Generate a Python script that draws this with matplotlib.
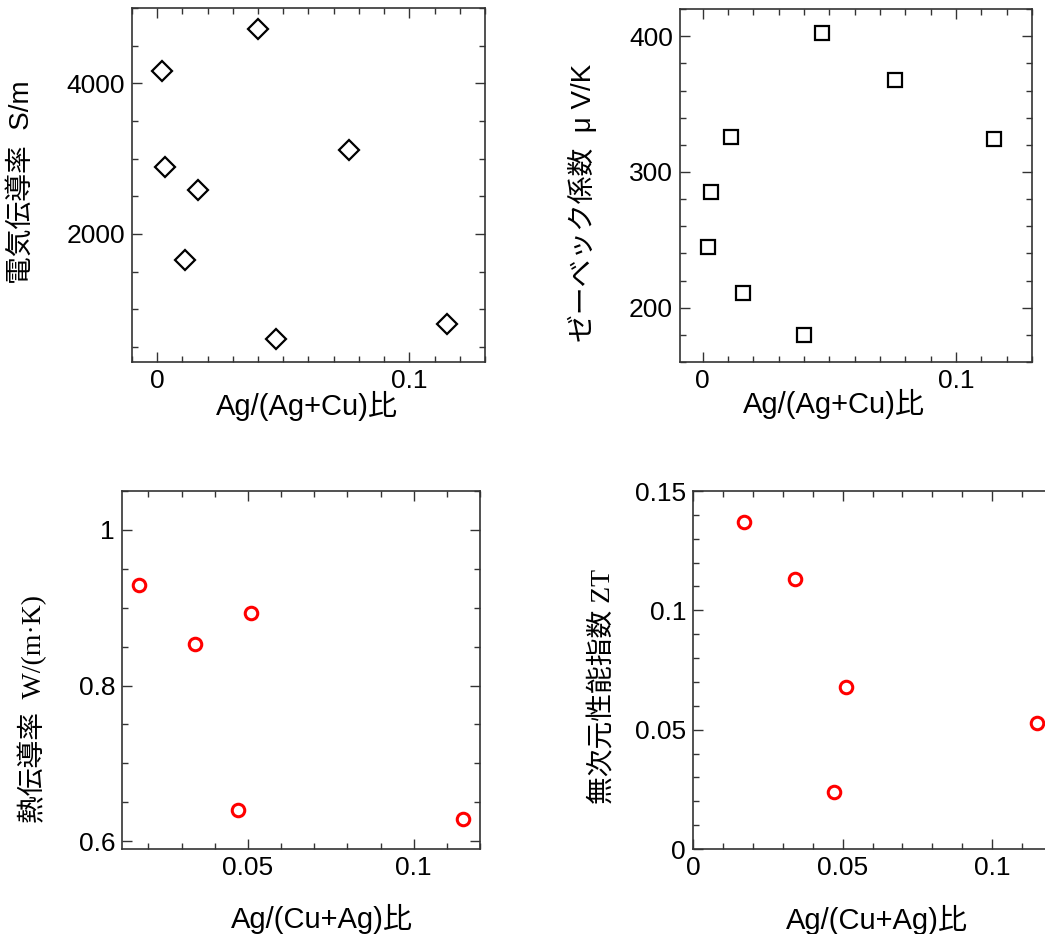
import matplotlib
matplotlib.use('Agg')
import matplotlib.pyplot as plt
from matplotlib.ticker import MultipleLocator, FuncFormatter

plt.rcParams['font.family'] = ['Liberation Sans', 'Noto Sans CJK JP']

# data
ag_ratio_top = [0.002, 0.0032, 0.0112, 0.016, 0.0398, 0.0472, 0.076, 0.115]
sigma = [4160, 2890, 1660, 2590, 4720, 610, 3120, 810]        # S/m
seebeck = [245, 285, 326, 211, 180, 402, 368, 324]            # uV/K

ag_ratio_bottom = [0.017, 0.034, 0.047, 0.051, 0.115]
kappa = [0.929, 0.854, 0.640, 0.893, 0.628]                   # W/(m K)
zt = [0.137, 0.113, 0.024, 0.068, 0.053]

sans = ['Liberation Sans', 'Noto Sans CJK JP']
serif = ['Liberation Serif', 'Noto Sans CJK JP']

fig = plt.figure(figsize=(10.45, 9.34), dpi=100)

fmt = FuncFormatter(lambda v, p: f'{v:g}')


def style(ax, xmaj, xmin, ymaj, ymin):
    ax.xaxis.set_major_locator(MultipleLocator(xmaj))
    ax.xaxis.set_minor_locator(MultipleLocator(xmin))
    ax.yaxis.set_major_locator(MultipleLocator(ymaj))
    ax.yaxis.set_minor_locator(MultipleLocator(ymin))
    ax.xaxis.set_major_formatter(fmt)
    ax.yaxis.set_major_formatter(fmt)
    ax.tick_params(which='both', direction='in', top=True, right=True,
                   color='#333333', width=1.0, labelsize=19, pad=5)
    ax.tick_params(which='major', length=7)
    ax.tick_params(which='minor', length=4)
    for s in ax.spines.values():
        s.set_color('#333333')
        s.set_linewidth(1.2)


# electrical conductivity
ax1 = fig.add_axes([0.1263, 0.6124, 0.3378, 0.3790])
ax1.plot(ag_ratio_top, sigma, 'D', ms=10, mfc='none', mec='black', mew=1.6)
ax1.set_xlim(-0.01, 0.13)
ax1.set_ylim(300, 5000)
style(ax1, 0.1, 0.01, 2000, 500)
ax1.set_xlabel('Ag/(Ag+Cu)比', fontsize=21, family=sans, va='center')
ax1.set_ylabel('電気伝導率  S/m', fontsize=20, family=sans, va='center')
ax1.xaxis.set_label_coords(0.497, -0.124)
ax1.yaxis.set_label_coords(-0.312, 0.507)

# seebeck coefficient
ax2 = fig.add_axes([0.6507, 0.6124, 0.3368, 0.3779])
ax2.plot(ag_ratio_top, seebeck, 's', ms=9.5, mfc='none', mec='black', mew=1.6)
ax2.set_xlim(-0.009, 0.13)
ax2.set_ylim(160, 420)
style(ax2, 0.1, 0.01, 100, 20)
ax2.set_xlabel('Ag/(Ag+Cu)比', fontsize=21, family=sans, va='center')
ax2.set_ylabel('ゼーベック係数  μ V/K', fontsize=20, family=sans, va='center')
ax2.xaxis.set_label_coords(0.4375, -0.119)
ax2.yaxis.set_label_coords(-0.276, 0.452)

# thermal conductivity
ax3 = fig.add_axes([0.1167, 0.0910, 0.3426, 0.3833])
ax3.plot(ag_ratio_bottom, kappa, 'o', ms=9, mfc='none', mec='red', mew=2.2)
ax3.set_xlim(0.012, 0.12)
ax3.set_ylim(0.59, 1.05)
style(ax3, 0.05, 0.01, 0.2, 0.05)
ax3.set_xlabel('Ag/(Cu+Ag)比', fontsize=21, family=sans, va='center')
ax3.set_ylabel('熱伝導率  W/(m·K)', fontsize=20, family=serif, va='center')
ax3.xaxis.set_label_coords(0.558, -0.196)
ax3.yaxis.set_label_coords(-0.251, 0.392)

# ZT (right side cut off by the figure edge, as in the original)
ax4 = fig.add_axes([0.6632, 0.0910, 0.3722, 0.3833])
ax4.plot(ag_ratio_bottom, zt, 'o', ms=9, mfc='none', mec='red', mew=2.2)
ax4.set_xlim(0, 0.13)
ax4.set_ylim(0, 0.15)
style(ax4, 0.05, 0.01, 0.05, 0.01)
ax4.set_xlabel('Ag/(Cu+Ag)比', fontsize=21, family=sans, va='center')
ax4.set_ylabel('無次元性能指数 ZT', fontsize=20, family=serif, va='center')
ax4.xaxis.set_label_coords(0.4728, -0.198)
ax4.yaxis.set_label_coords(-0.229, 0.454)

fig.savefig('out.png', dpi=100)
